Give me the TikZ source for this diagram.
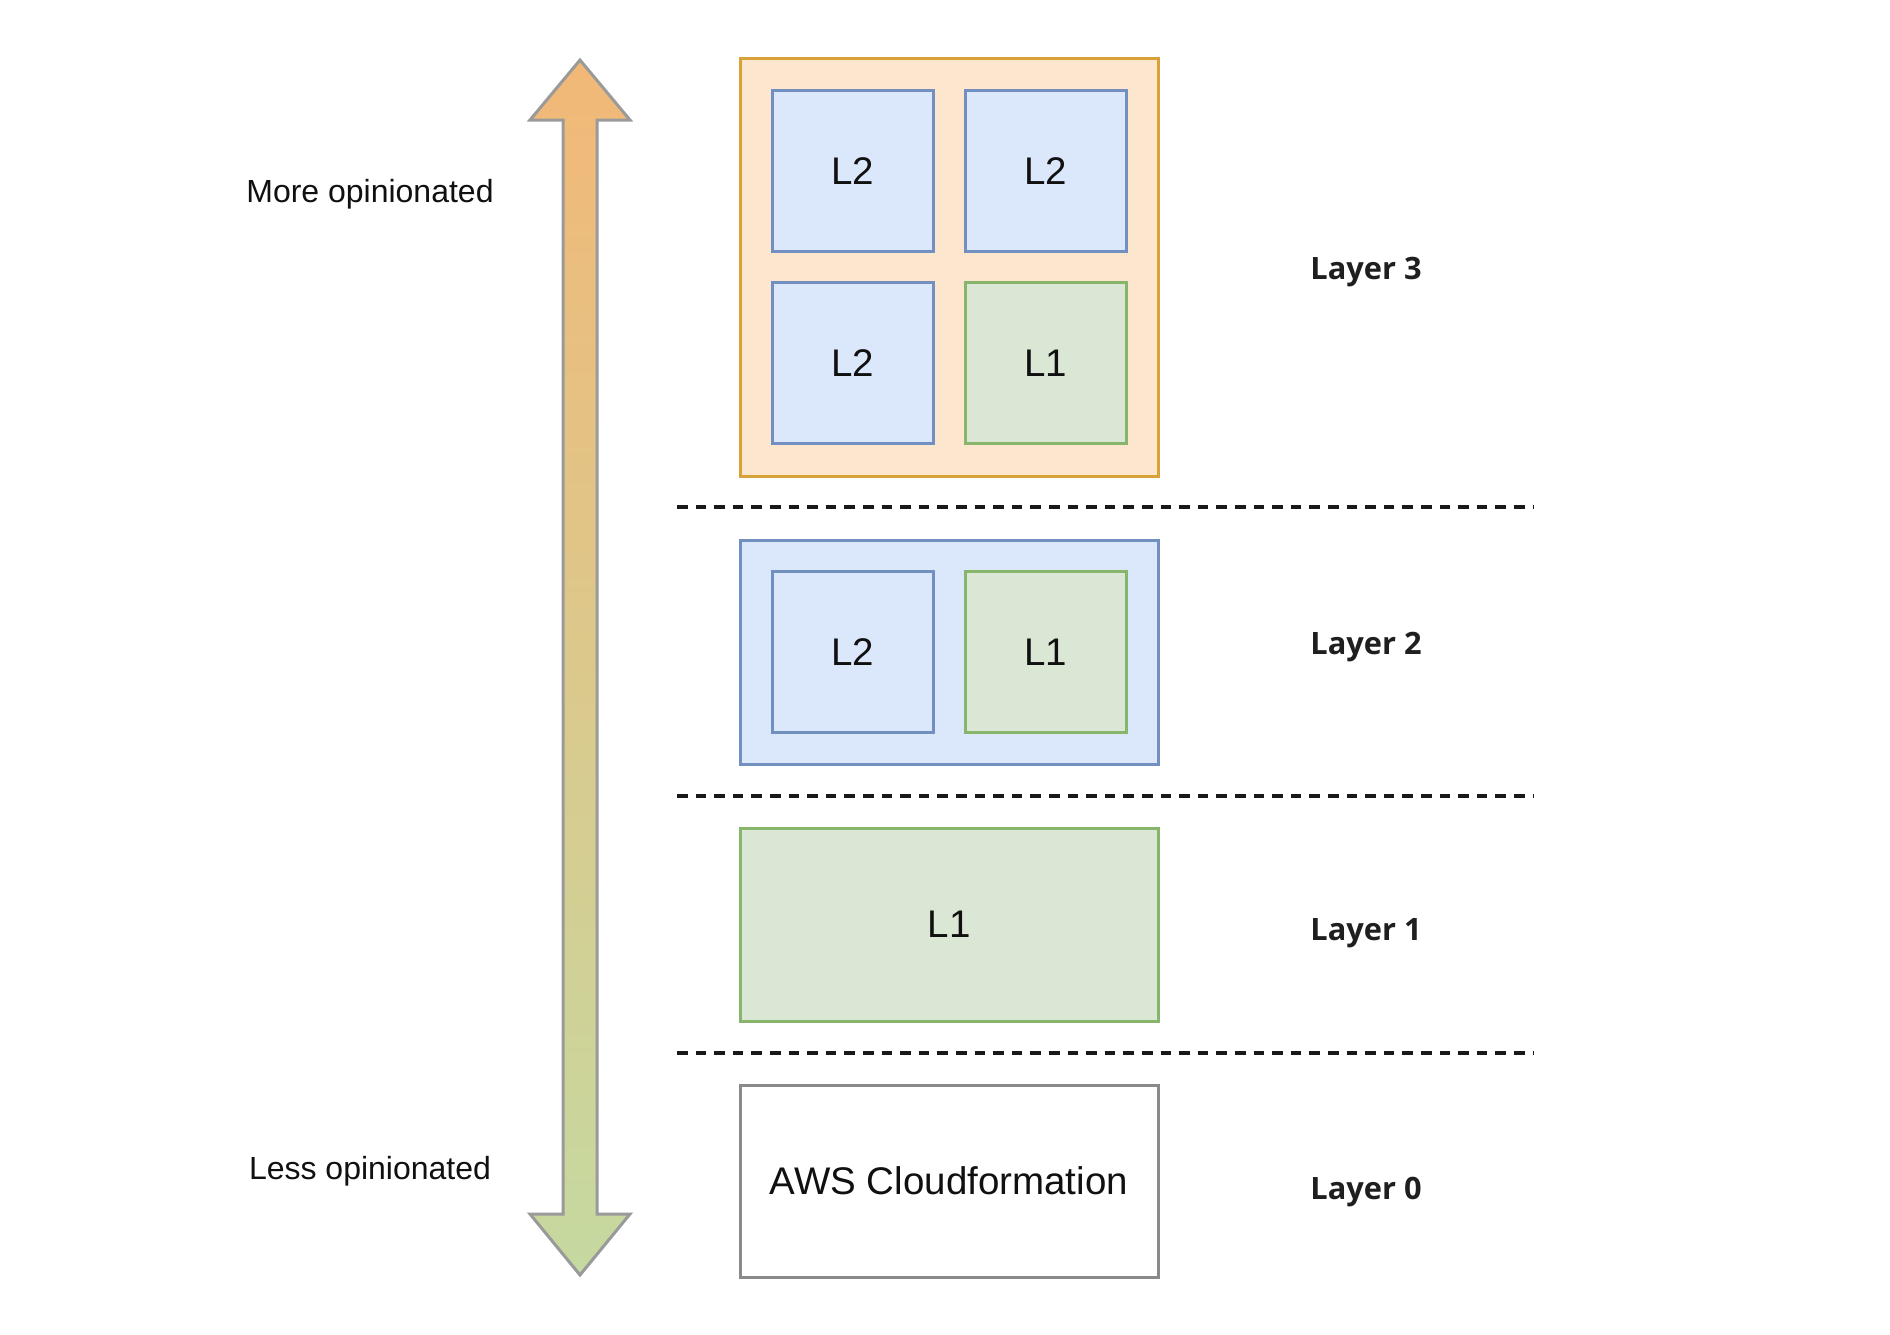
\documentclass[tikz,border=0pt]{standalone}
\usepackage{fontspec}
\setmainfont{Liberation Sans}
\newfontfamily\osans{Open Sans}
\definecolor{orfill}{HTML}{FCE6CD}
\definecolor{ordraw}{HTML}{D9A238}
\definecolor{blfill}{HTML}{DBE7FA}
\definecolor{bldraw}{HTML}{7190C0}
\definecolor{grfill}{HTML}{DAE7D4}
\definecolor{grdraw}{HTML}{88B56C}
\definecolor{awsdraw}{HTML}{8A8A8A}
\definecolor{arrtop}{HTML}{F2B877}
\definecolor{arrbot}{HTML}{C5D9A0}
\definecolor{arrdraw}{HTML}{9A9A9A}
\definecolor{txt}{HTML}{101010}
\tikzset{
  box/.style={draw, line width=3pt, minimum width=161pt, minimum height=161pt, inner sep=0pt, font=\fontsize{38.5}{42}\selectfont, text=txt},
  bluebox/.style={box, fill=blfill, draw=bldraw},
  greenbox/.style={box, fill=grfill, draw=grdraw},
  outerbox/.style={draw, line width=3pt, minimum width=418pt, inner sep=0pt, font=\fontsize{38.5}{42}\selectfont, text=txt},
  sep/.style={line width=3.2pt, dash pattern=on 10.5pt off 8.1pt, color=black!90},
  layerlbl/.style={font=\osans\bfseries\fontsize{30.8}{36}\selectfont, text=black!88},
  sidelbl/.style={font=\fontsize{32}{36}\selectfont, text=txt},
  boxtxt/.style={yshift=-1.5pt}
}
\begin{document}
\begin{tikzpicture}[x=1pt,y=-1pt]
\useasboundingbox (0,0) rectangle (1890,1334);
\fill[white] (0,0) rectangle (1890,1334);

% gradient arrow
\shadedraw[top color=arrtop, bottom color=arrbot, draw=arrdraw, line width=3pt, line join=miter]
  (580,60) -- (630,120) -- (597,120) -- (597,1214) -- (630,1214) -- (580,1275)
  -- (530,1214) -- (563,1214) -- (563,120) -- (530,120) -- cycle;

\node[sidelbl] (more) at (370,194) {More opinionated};
\node[sidelbl] (less) at (370,1171) {Less opinionated};

% Layer 3
\node[outerbox, fill=orfill, draw=ordraw, minimum height=418pt] (l3) at (949,267) {};
\node[bluebox] (l3a) at (852.5,171) {\raisebox{-1.5pt}{L2}};
\node[bluebox] (l3b) at (1045.5,171) {\raisebox{-1.5pt}{L2}};
\node[bluebox] (l3c) at (852.5,363) {\raisebox{-1.5pt}{L2}};
\node[greenbox] (l3d) at (1045.5,363) {\raisebox{-1.5pt}{L1}};

% separators
\coordinate (s1a) at (677,507); \coordinate (s1b) at (1533,507);
\coordinate (s2a) at (677,796); \coordinate (s2b) at (1533,796);
\coordinate (s3a) at (677,1053); \coordinate (s3b) at (1533,1053);
\draw[sep] (s1a) -- (s1b);
\draw[sep] (s2a) -- (s2b);
\draw[sep] (s3a) -- (s3b);

% Layer 2
\node[outerbox, fill=blfill, draw=bldraw, minimum height=224pt] (l2) at (949,652) {};
\node[bluebox] (l2a) at (852.5,652) {\raisebox{-1.5pt}{L2}};
\node[greenbox] (l2b) at (1045.5,652) {\raisebox{-1.5pt}{L1}};

% Layer 1
\node[outerbox, fill=grfill, draw=grdraw, minimum height=193pt] (l1) at (949,924.5) {\raisebox{-1.5pt}{L1}};

% Layer 0
\node[outerbox, fill=white, draw=awsdraw, minimum height=192pt] (l0) at (949,1181) {\raisebox{-1.5pt}{AWS Cloudformation}};

% layer labels
\node[layerlbl] (t3) at (1366,272.5) {Layer 3};
\node[layerlbl] (t2) at (1366,647.5) {Layer 2};
\node[layerlbl] (t1) at (1366,933.5) {Layer 1};
\node[layerlbl] (t0) at (1366,1192.5) {Layer 0};
\end{tikzpicture}
\end{document}
